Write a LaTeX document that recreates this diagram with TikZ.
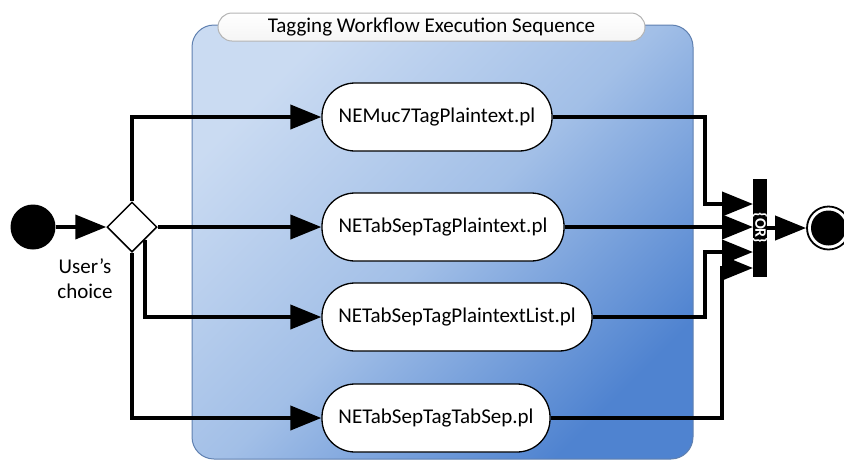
\documentclass[tikz,border=0pt]{standalone}
\usepackage{fontspec}
\setmainfont{Carlito}
\usetikzlibrary{arrows.meta,shapes.geometric}
\definecolor{laneLight}{HTML}{CADBF2}
\definecolor{laneMid}{HTML}{A2BFE7}
\definecolor{laneDark}{HTML}{4F83D0}
\definecolor{laneEdge}{HTML}{5F80B0}
\definecolor{tabEdge}{HTML}{B4B4B4}

\begin{document}
\begin{tikzpicture}[x=1pt,y=-1pt,
  flow/.style={line width=4pt, -{Triangle[length=31pt,width=24pt]}},
  script/.style={draw, line width=1.3pt, fill=white, rounded corners=33pt,
    minimum height=68pt, inner sep=0pt, font=\fontsize{21}{25}\selectfont},
  bigtext/.style={font=\fontsize{21}{25}\selectfont},
]
\useasboundingbox (0,0) rectangle (844,459);
\clip (0,0) rectangle (844,459);

% swimlane container
\path[draw=laneEdge, line width=1pt, rounded corners=22pt,
  top color=laneLight, bottom color=laneDark, middle color=laneMid, shading angle=45]
  (192,25) rectangle (693,459);

% container title tab
\node[draw=tabEdge, line width=1pt, top color=white, bottom color=black!4, rounded corners=14pt,
  minimum width=427pt, minimum height=28pt, inner sep=0pt, bigtext]
  (title) at (431.5,27) {Tagging Workflow Execution Sequence};

% start, decision and end
\node[circle, fill=black, minimum size=45pt, inner sep=0pt] (start) at (33,227) {};
\node[diamond, draw, fill=white, line width=1.5pt, minimum width=50pt,
  minimum height=50pt, inner sep=0pt] (choice) at (132,227) {};
\node[bigtext, align=center] (usr) at (85,279) {User’s\\choice};
\node[circle, draw, fill=white, line width=1.8pt, minimum size=43pt, inner sep=0pt,
  path picture={\fill[black] (path picture bounding box.center) circle (17.5pt);}]
  (stop) at (828.5,228) {};

% scripts
\node[script, minimum width=230pt] (n1) at (437,117) {NEMuc7TagPlaintext.pl};
\node[script, minimum width=242pt] (n2) at (443,227) {NETabSepTagPlaintext.pl};
\node[script, minimum width=270pt] (n3) at (457,317) {NETabSepTagPlaintextList.pl};
\node[script, minimum width=228pt] (n4) at (436,418) {NETabSepTagTabSep.pl};

% join bar
\node[fill=black, minimum width=14pt, minimum height=98pt, inner sep=0pt] (join) at (760,228) {};
\node[text=white, rotate=-90, font=\fontsize{16}{16}\selectfont\bfseries] (or) at (join.center) {\{OR\}};

% bar inputs and elbows
\coordinate (in1) at (753,204);
\coordinate (in2) at (753,227);
\coordinate (in3) at (753,252);
\coordinate (in4) at (753,268);
\coordinate (b1) at (705,204);
\coordinate (b3) at (705,252);
\coordinate (b4) at (722,268);

% connectors
\draw[flow] (start) -- (choice.west);
\draw[flow] (choice.north) |- (n1.west);
\draw[flow] (choice.east) -- (n2.west);
\draw[flow] (choice.south east) |- (n3.west);
\draw[flow] (choice.south) |- (n4.west);

\draw[flow] (n1.east) -| (b1) -- (in1);
\draw[flow] (n2.east) -- (in2);
\draw[flow] (n3.east) -| (b3) -- (in3);
\draw[flow] (n4.east) -| (b4) -- (in4);

\draw[flow] (join.east) -- (stop.west);
\end{tikzpicture}
\end{document}
